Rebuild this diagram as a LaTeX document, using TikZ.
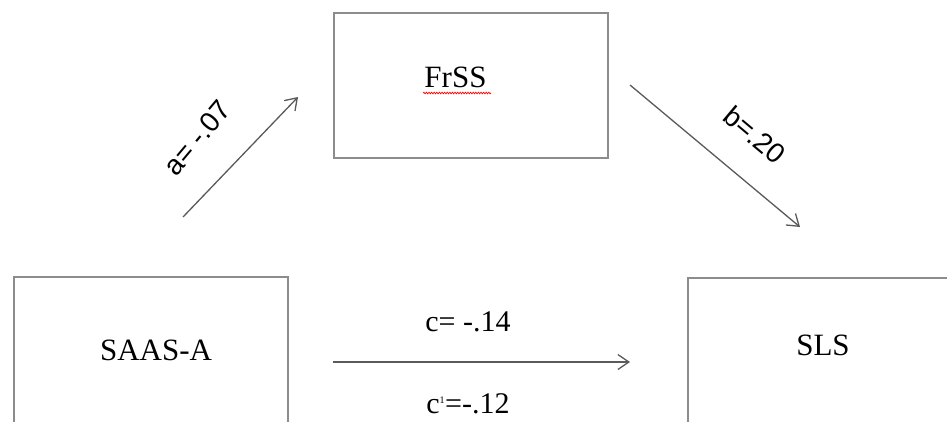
\documentclass[tikz,border=0pt]{standalone}
\usepackage{fontspec}
\setmainfont{Liberation Serif}
\newfontfamily\arialfont{Liberation Sans}
\usetikzlibrary{arrows.meta,decorations.pathmorphing}
\definecolor{boxgray}{HTML}{8C8C8C}
\definecolor{arrowgray}{HTML}{5A5A5A}
\tikzset{
  varbox/.style={draw=boxgray, line width=2pt, minimum width=#1, inner sep=0pt, anchor=north west},
  varlabel/.style={font=\fontsize{31}{36}\selectfont, inner sep=0pt, anchor=base},
  coeflabel/.style={font=\fontsize{30}{34}\selectfont, inner sep=0pt, anchor=base},
  pathlabel/.style={font=\arialfont\fontsize{28}{32}\selectfont, inner sep=0pt},
  patharrow/.style={draw=arrowgray, line width=1.3pt, -{Straight Barb[length=11pt,width=15pt,line width=1.3pt]}}
}
\begin{document}
\begin{tikzpicture}[x=1pt,y=-1pt]
\useasboundingbox (0,0) rectangle (947,421);
\clip (0,0) rectangle (947,421);
\fill[white] (0,0) rectangle (947,421);
% boxes
\node[varbox=274pt, minimum height=145pt] (frssbox) at (333,12) {};
\node[varbox=274pt, minimum height=170pt] (saasbox) at (13,276) {};
\node[varbox=274pt, minimum height=170pt] (slsbox) at (687,277) {};
% box texts
\node[varlabel] (frss) at (455.5,87) {FrSS};
\node[varlabel] (saas) at (156,360) {SAAS-A};
\node[varlabel] (sls) at (823,355) {SLS};
\coordinate (ulstart) at (423,93);
\coordinate (ulend) at (491,93);
\draw[red, line width=0.7pt, decorate, decoration={snake, amplitude=0.8pt, segment length=2.6pt}] (ulstart) -- (ulend);
% arrows
\coordinate (astart) at (183,217);
\coordinate (aend) at (298,97);
\coordinate (bstart) at (630,85);
\coordinate (bend) at (800,227);
\coordinate (cstart) at (333,362);
\coordinate (cend) at (630,362);
\draw[patharrow] (astart) -- (aend);
\draw[patharrow] (bstart) -- (bend);
\draw[patharrow] (cstart) -- (cend);
% labels
\node[pathlabel, rotate=50] (alabel) at (197,138) {a= -.07};
\node[pathlabel, rotate=-40] (blabel) at (755,135) {b=.20};
\node[coeflabel] (clabel) at (468,331) {c= -.14};
\node[coeflabel] (cplabel) at (468,413) {c\textsuperscript{\fontsize{10}{10}\selectfont 1}=-.12};
\end{tikzpicture}
\end{document}
